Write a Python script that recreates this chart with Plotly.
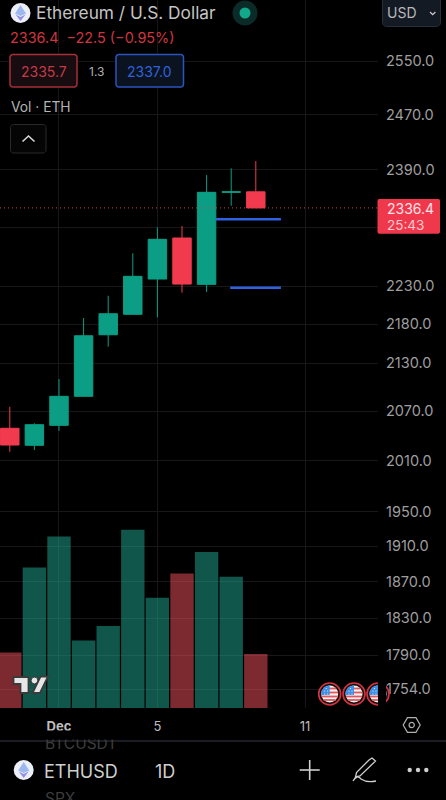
"""ETHUSD daily candles with volume, drawn like the TradingView mobile screen."""

import math
import plotly.graph_objects as go

W, H = 446, 800
PLOT_R = 378
PLOT_B = 708

# Chart values
dates = ["2023-11-29", "2023-11-30", "2023-12-01", "2023-12-02", "2023-12-03", "2023-12-04",
         "2023-12-05", "2023-12-06", "2023-12-07", "2023-12-08", "2023-12-09"]
opens = [2049.0, 2028.3, 2052.6, 2088.4, 2166.4, 2192.9, 2239.5, 2294.9, 2232.4, 2358.2, 2358.9]
highs = [2075.5, 2055.1, 2110.0, 2188.1, 2217.3, 2274.1, 2309.5, 2311.3, 2382.6, 2392.1, 2402.6]
lows = [2020.6, 2022.6, 2046.0, 2087.5, 2151.0, 2192.4, 2189.0, 2221.3, 2222.2, 2339.4, 2336.0]
closes = [2028.7, 2053.4, 2088.4, 2165.1, 2193.7, 2243.1, 2293.1, 2232.8, 2358.2, 2358.9, 2336.4]
volumes = [55.6, 140.6, 171.6, 67.6, 82.0, 178.3, 110.3, 134.6, 156.0, 131.3, 54.0]

price_ticks = [2550, 2470, 2390, 2310, 2230, 2180, 2130, 2070, 2010, 1950, 1910, 1870, 1830, 1790, 1754]
# 2310 sits behind the last price tag, only its grid line shows
price_labels = ["" if t == 2310 else f"{t:.1f}" for t in price_ticks]
date_ticks = ["2023-12-01", "2023-12-05", "2023-12-11"]
date_labels = ["<b>Dec</b>", "5", "11"]

last_price = 2336.4
level_upper = 2320.6
level_lower = 2227.9
level_upper_x = ["2023-12-07 09:00", "2023-12-10 00:30"]
level_lower_x = ["2023-12-07 23:00", "2023-12-10 00:30"]

x_range = ["2023-11-28 14:27", "2023-12-13 23:12"]
price_range = [3.23919, 3.42233]

GREEN = "#0b9e85"
RED = "#f23a4e"
BLUE = "#2f62e0"
VOL_GREEN = "rgba(34,171,148,0.5)"
VOL_RED = "rgba(247,82,95,0.5)"
GRID = "#171717"
FONT = "Inter"

fig = go.Figure()

vol_colors = [VOL_GREEN if c >= o else VOL_RED for o, c in zip(opens, closes)]
fig.add_trace(go.Bar(x=dates, y=volumes, marker=dict(color=vol_colors, line_width=0), yaxis="y", hoverinfo="skip"))

fig.add_trace(go.Candlestick(
    x=dates, open=opens, high=highs, low=lows, close=closes, yaxis="y2",
    increasing=dict(line=dict(color=GREEN, width=1), fillcolor=GREEN),
    decreasing=dict(line=dict(color=RED, width=1), fillcolor=RED),
    whiskerwidth=0, hoverinfo="skip",
))

fig.add_trace(go.Scatter(x=x_range, y=[last_price, last_price], mode="lines", yaxis="y2",
                         line=dict(color="#c8404c", width=1, dash="1px,3px"), hoverinfo="skip"))
fig.add_trace(go.Scatter(x=level_upper_x, y=[level_upper, level_upper], mode="lines", yaxis="y2",
                         line=dict(color=BLUE, width=2.4), hoverinfo="skip"))
fig.add_trace(go.Scatter(x=level_lower_x, y=[level_lower, level_lower], mode="lines", yaxis="y2",
                         line=dict(color=BLUE, width=2.4), hoverinfo="skip"))


# Helpers for the app chrome, all in screen pixels
def px(x):
    return x / W


def py(y):
    return 1 - y / H


def pts_path(points, close=True):
    d = "M " + " L ".join(f"{px(x):.5f} {py(y):.5f}" for x, y in points)
    return d + (" Z" if close else "")


def round_rect(x0, y0, x1, y1, r):
    points = []
    corners = [(x1 - r, y0 + r, -90), (x1 - r, y1 - r, 0), (x0 + r, y1 - r, 90), (x0 + r, y0 + r, 180)]
    for cx, cy, start in corners:
        for step in range(7):
            a = math.radians(start + step * 15)
            points.append((cx + r * math.cos(a), cy + r * math.sin(a)))
    return pts_path(points)


shapes = []


def add_path(path, fill="rgba(0,0,0,0)", line="rgba(0,0,0,0)", width=1):
    shapes.append(dict(type="path", xref="paper", yref="paper", path=path, fillcolor=fill,
                       line=dict(color=line, width=width), layer="above"))


def add_circle(cx, cy, r, fill="rgba(0,0,0,0)", line="rgba(0,0,0,0)", width=1):
    shapes.append(dict(type="circle", xref="paper", yref="paper", x0=px(cx - r), x1=px(cx + r),
                       y0=py(cy + r), y1=py(cy - r), fillcolor=fill,
                       line=dict(color=line, width=width), layer="above"))


def add_rect(x0, y0, x1, y1, fill):
    shapes.append(dict(type="rect", xref="paper", yref="paper", x0=px(x0), x1=px(x1), y0=py(y1), y1=py(y0),
                       fillcolor=fill, line_width=0, layer="above"))


def eth_logo(cx, cy):
    add_circle(cx, cy, 10, fill="#eceef8")
    add_path(pts_path([(cx, cy - 8), (cx + 5.5, cy + 0.5), (cx, cy + 3), (cx - 5.5, cy + 0.5)]), fill="#9db8ee")
    add_path(pts_path([(cx, cy + 4), (cx + 5, cy + 1.5), (cx, cy + 8), (cx - 5, cy + 1.5)]), fill="#8f8fe6")


def us_flag(cx, cy):
    add_circle(cx, cy, 11, fill="#111111", line="#d9333f", width=1.6)
    r = 8.5
    add_circle(cx, cy, r, fill="#f4f4f4")
    for dy in (-5.5, -1.5, 2.5, 6):
        half = math.sqrt(max(r * r - dy * dy, 0))
        add_path(pts_path([(cx - half, cy + dy - 0.9), (cx + half, cy + dy - 0.9),
                           (cx + half, cy + dy + 0.9), (cx - half, cy + dy + 0.9)]), fill="#e2565c")
    canton = [(cx, cy - r), (cx, cy + 1), (cx - r + 0.2, cy + 1)]
    for step in range(1, 7):
        a = math.radians(180 + step * 15 - 8)
        canton.append((cx + r * math.cos(a), cy + r * math.sin(a)))
    add_path(pts_path(canton), fill="#3b8fe6")
    for dx, dy in [(-5, -3), (-2, -3), (-5, 0), (-2, 0), (-3.5, -5.5)]:
        add_circle(cx + dx, cy + dy, 0.6, fill="#ffffff")


annotations = []


def add_text(text, x, y, size, color, anchor="left"):
    annotations.append(dict(text=text, xref="paper", yref="paper", x=px(x), y=py(y), xanchor=anchor,
                            yanchor="middle", showarrow=False, align=anchor,
                            font=dict(family=FONT, size=size, color=color)))


# Header
eth_logo(20.5, 13)
add_text("Ethereum / U.S. Dollar", 34, 13, 17.3, "#c4c4c4")
add_text("2336.4  \u221222.5 (\u22120.95%)", 8, 38, 14.4, "#cf3540")
add_path(round_rect(10, 54.5, 77, 87, 3), fill="#170c10", line="#a82e38", width=1.5)
add_text("2335.7", 43.5, 71, 14, "#c43a46", anchor="center")
add_text("1.3", 96.7, 71, 12, "#b0b0b0", anchor="center")
add_path(round_rect(116, 54.5, 183.5, 87, 3), fill="#0b1220", line="#2a55c0", width=1.5)
add_text("2337.0", 149.5, 71, 14, "#2f62d8", anchor="center")
add_text("Vol \u00b7 ETH", 9, 107, 13.8, "#b4b4b4")
add_path(round_rect(10.5, 124.5, 46, 153, 3), fill="#050505", line="#2a2a2e", width=1)
add_path(pts_path([(22.5, 141.5), (28.5, 136), (34.5, 141.5)], close=False), line="#d8d8d8", width=1.6)

# Market status dot
add_circle(245, 13, 12.5, fill="#0b2b29")
add_circle(245, 13, 5.5, fill="#12a88c")

# Currency button
add_path(round_rect(382.5, -6, 440.5, 26.5, 4), fill="#141a24", line="#2a2f3a", width=1)
add_text("USD", 385, 13, 14, "#b8b8b8")
add_path(pts_path([(430, 12), (432.7, 14.7), (435.4, 12)], close=False), line="#c8c8c8", width=1.3)

# Last price tag
add_path(round_rect(377.5, 199, 440, 233.7, 2), fill="#f0384c")
add_text("2336.4", 385, 208.5, 14, "#ffe3e6")
add_text("25:43", 385, 224.5, 13.5, "#ffc9cf")

# TradingView mark
add_path(pts_path([(13.5, 677), (28.5, 677), (28.5, 693), (20.5, 693), (20.5, 684), (13.5, 684)]),
         fill="#e6e6e6", line="#3a3a3a", width=1.8)
add_circle(34.5, 680.5, 3.4, fill="#e6e6e6", line="#3a3a3a", width=1)
add_path(pts_path([(40.5, 676.5), (48, 676.5), (40, 693), (32.5, 693)]), fill="#e6e6e6", line="#3a3a3a", width=1.8)

# Event flags, the third one cut off at the price scale
us_flag(329.7, 694)
us_flag(354, 694)
us_flag(378, 694)
add_rect(378, 680, 386, 708, "#000000")

# Settings hexagon
hexagon = [(411.7 + 8.5 * math.cos(math.radians(a)), 725 + 8.5 * math.sin(math.radians(a))) for a in range(0, 360, 60)]
add_path(pts_path(hexagon), line="#b0b0b0", width=1.2)
add_circle(411.7, 725, 2.6, line="#b0b0b0", width=1.2)

# Bottom toolbar, symbols above and below the picker are scrolled out of view
add_text("BTCUSDT", 43, 743.5, 15.5, "#3c3c3c")
annotations.append(dict(text=" ", xref="paper", yref="paper", x=px(40), y=py(740), xanchor="left", yanchor="bottom",
                        showarrow=False, width=95, height=8, bgcolor="#000000", borderpad=0, font=dict(size=4)))
add_rect(0, 740, W, 742, "#1c1c22")
eth_logo(23.7, 770)
add_text("ETHUSD", 42, 771, 18, "#cfcfcf")
add_text("1D", 152.5, 771, 18, "#cfcfcf")
add_text("SPX", 43, 798, 15.5, "#3c3c3c")
add_path(pts_path([(299.7, 770), (319.7, 770)], close=False), line="#cfcfcf", width=1.6)
add_path(pts_path([(309.7, 760), (309.7, 780)], close=False), line="#cfcfcf", width=1.6)
add_path(pts_path([(369, 760), (372, 758), (375.5, 761), (360, 776), (355.5, 777), (356.5, 772.5)]),
         line="#cfcfcf", width=1.3)
add_path(f"M {px(353):.5f} {py(781):.5f} Q {px(357):.5f} {py(774):.5f} {px(361):.5f} {py(779):.5f} "
         f"Q {px(367):.5f} {py(783):.5f} {px(376):.5f} {py(781):.5f}", line="#cfcfcf", width=1.3)
for dot_x in (409.7, 418, 426.3):
    add_circle(dot_x, 770, 2.2, fill="#cfcfcf")

fig.update_layout(
    width=W, height=H,
    margin=dict(l=0, r=0, t=0, b=0),
    paper_bgcolor="#000000", plot_bgcolor="#000000",
    showlegend=False, hovermode=False,
    bargap=0.05, boxgap=0.25, boxgroupgap=0,
    font=dict(family=FONT),
    shapes=shapes, annotations=annotations,
    xaxis=dict(
        domain=[0, PLOT_R / W], type="date", range=x_range, rangeslider=dict(visible=False),
        tickmode="array", tickvals=date_ticks, ticktext=date_labels,
        tickfont=dict(family=FONT, size=13, color="#bdbdbd"), ticks="", ticklabelstandoff=9,
        showgrid=True, gridcolor=GRID, gridwidth=1, zeroline=False, showline=False,
    ),
    yaxis=dict(
        domain=[1 - PLOT_B / H, 1], range=[0, PLOT_B], visible=False, showgrid=False, zeroline=False,
    ),
    yaxis2=dict(
        domain=[1 - PLOT_B / H, 1], overlaying="y", side="right", anchor="x", type="log", range=price_range,
        tickmode="array", tickvals=price_ticks, ticktext=price_labels,
        tickfont=dict(family=FONT, size=14.5, color="#9e9e9e"), ticks="", ticklabelstandoff=7,
        showgrid=True, gridcolor=GRID, gridwidth=1, zeroline=False, showline=False,
    ),
)

fig.write_html("out.html", config=dict(displayModeBar=False, staticPlot=True),
               post_script="document.body.style.margin='0';document.body.style.background='#000';")
